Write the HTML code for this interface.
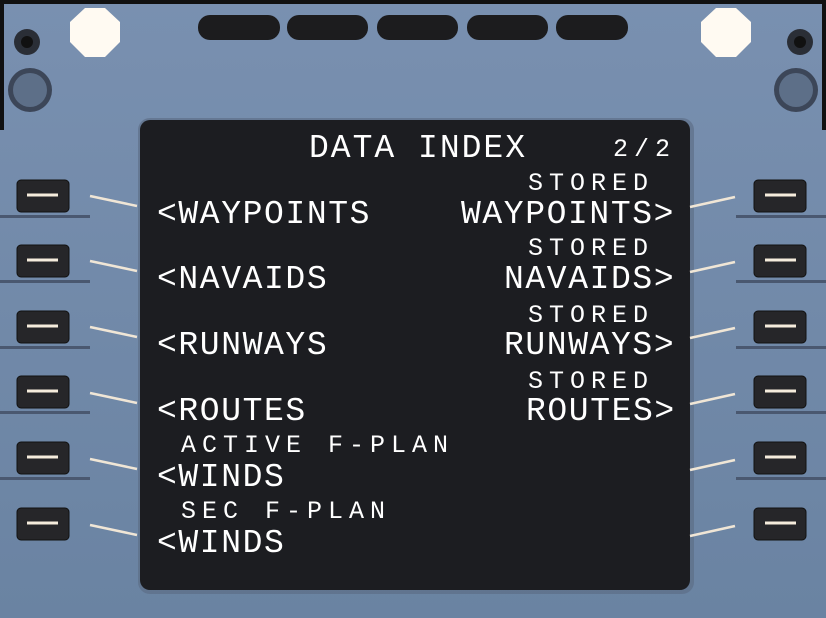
<!DOCTYPE html>
<html><head><meta charset="utf-8"><style>
html,body{margin:0;padding:0;background:#000}
#c{position:relative;width:826px;height:618px;overflow:hidden;background:#7089a8}
svg{position:absolute;left:0;top:0}
.t{position:absolute;font-family:"Liberation Mono",monospace;color:#fff;white-space:pre;line-height:1;transform-origin:0 0}
.b{font-size:33px;letter-spacing:1.6px}
.s{font-size:25px;letter-spacing:6px}
</style></head><body><div id="c">
<svg width="826" height="618">
<defs>
<linearGradient id="bg" x1="0" y1="0" x2="0" y2="1"><stop offset="0" stop-color="#7990b0"/><stop offset="1" stop-color="#6a83a2"/></linearGradient>
</defs>
<rect x="0" y="0" width="826" height="618" fill="url(#bg)"/>
<rect x="0" y="0" width="826" height="4" fill="#111"/>
<rect x="0" y="0" width="4" height="130" fill="#111"/>
<rect x="822" y="0" width="4" height="130" fill="#111"/>
<g fill="#1c1c1e">
<rect x="198" y="15" width="82" height="25" rx="12"/>
<rect x="287" y="15" width="81" height="25" rx="12"/>
<rect x="377" y="15" width="81" height="25" rx="12"/>
<rect x="467" y="15" width="81" height="25" rx="12"/>
<rect x="556" y="15" width="72" height="25" rx="12"/>
</g>
<polygon points="85,8 105,8 120,22 120,42 105,57 85,57 70,42 70,22" fill="#fffaf2"/>
<polygon points="716,8 736,8 751,22 751,42 736,57 716,57 701,42 701,22" fill="#fffaf2"/>
<circle cx="27" cy="42" r="13" fill="#2a2e36"/><circle cx="27" cy="42" r="6" fill="#111"/>
<circle cx="800" cy="42" r="13" fill="#2a2e36"/><circle cx="800" cy="42" r="6" fill="#111"/>
<circle cx="30" cy="90" r="22" fill="#3c4658"/><circle cx="30" cy="90" r="17" fill="#5d6f88"/>
<circle cx="796" cy="90" r="22" fill="#3c4658"/><circle cx="796" cy="90" r="17" fill="#5d6f88"/>
<rect x="138" y="118" width="556" height="476" rx="12" fill="#5a6b82" opacity="0.6"/>
<rect x="140" y="120" width="550" height="470" rx="10" fill="#1c1d21"/>
<g fill="#262629" stroke="#111" stroke-width="1">
<rect x="17" y="180" width="52" height="32" rx="4"/><rect x="17" y="245" width="52" height="32" rx="4"/><rect x="17" y="311" width="52" height="32" rx="4"/><rect x="17" y="376" width="52" height="32" rx="4"/><rect x="17" y="442" width="52" height="32" rx="4"/><rect x="17" y="508" width="52" height="32" rx="4"/>
<rect x="754" y="180" width="52" height="32" rx="4"/><rect x="754" y="245" width="52" height="32" rx="4"/><rect x="754" y="311" width="52" height="32" rx="4"/><rect x="754" y="376" width="52" height="32" rx="4"/><rect x="754" y="442" width="52" height="32" rx="4"/><rect x="754" y="508" width="52" height="32" rx="4"/>
</g>
<g fill="#4a5870">
<rect x="0" y="215" width="90" height="3"/><rect x="0" y="280" width="90" height="3"/><rect x="0" y="346" width="90" height="3"/><rect x="0" y="411" width="90" height="3"/><rect x="0" y="477" width="90" height="3"/>
<rect x="736" y="215" width="90" height="3"/><rect x="736" y="280" width="90" height="3"/><rect x="736" y="346" width="90" height="3"/><rect x="736" y="411" width="90" height="3"/><rect x="736" y="477" width="90" height="3"/>
</g>
<g stroke="#f5ecdc" stroke-width="3">
<line x1="27" y1="195" x2="58" y2="195"/><line x1="27" y1="260" x2="58" y2="260"/><line x1="27" y1="326" x2="58" y2="326"/><line x1="27" y1="391" x2="58" y2="391"/><line x1="27" y1="457" x2="58" y2="457"/><line x1="27" y1="523" x2="58" y2="523"/>
<line x1="765" y1="195" x2="796" y2="195"/><line x1="765" y1="260" x2="796" y2="260"/><line x1="765" y1="326" x2="796" y2="326"/><line x1="765" y1="391" x2="796" y2="391"/><line x1="765" y1="457" x2="796" y2="457"/><line x1="765" y1="523" x2="796" y2="523"/>
</g>
<g stroke="#f0e6d6" stroke-width="2.5">
<line x1="90" y1="196" x2="137" y2="206"/><line x1="90" y1="261" x2="137" y2="271"/><line x1="90" y1="327" x2="137" y2="337"/><line x1="90" y1="393" x2="137" y2="403"/><line x1="90" y1="459" x2="137" y2="469"/><line x1="90" y1="525" x2="137" y2="535"/>
<line x1="690" y1="207" x2="735" y2="197"/><line x1="690" y1="272" x2="735" y2="262"/><line x1="690" y1="338" x2="735" y2="328"/><line x1="690" y1="404" x2="735" y2="394"/><line x1="690" y1="470" x2="735" y2="460"/><line x1="690" y1="536" x2="735" y2="526"/>
</g>
</svg>
<div class="t b" style="left:309px;top:132px;letter-spacing:2px">DATA INDEX</div>
<div class="t s" style="left:613px;top:137px;letter-spacing:6px">2/2</div>
<div class="t s" style="left:528px;top:171px">STORED</div>
<div class="t s" style="left:528px;top:236px">STORED</div>
<div class="t s" style="left:528px;top:303px">STORED</div>
<div class="t s" style="left:528px;top:369px">STORED</div>
<div class="t s" style="left:181px;top:433px">ACTIVE F-PLAN</div>
<div class="t s" style="left:181px;top:499px">SEC F-PLAN</div>
<div class="t b" style="left:157px;top:198px">&lt;WAYPOINTS</div>
<div class="t b" style="left:157px;top:263px">&lt;NAVAIDS</div>
<div class="t b" style="left:157px;top:329px">&lt;RUNWAYS</div>
<div class="t b" style="left:157px;top:395px">&lt;ROUTES</div>
<div class="t b" style="left:157px;top:461px">&lt;WINDS</div>
<div class="t b" style="left:157px;top:527px">&lt;WINDS</div>
<div class="t b" style="left:461px;top:198px">WAYPOINTS&gt;</div>
<div class="t b" style="left:504px;top:263px">NAVAIDS&gt;</div>
<div class="t b" style="left:504px;top:329px">RUNWAYS&gt;</div>
<div class="t b" style="left:526px;top:395px">ROUTES&gt;</div>
</div></body></html>
